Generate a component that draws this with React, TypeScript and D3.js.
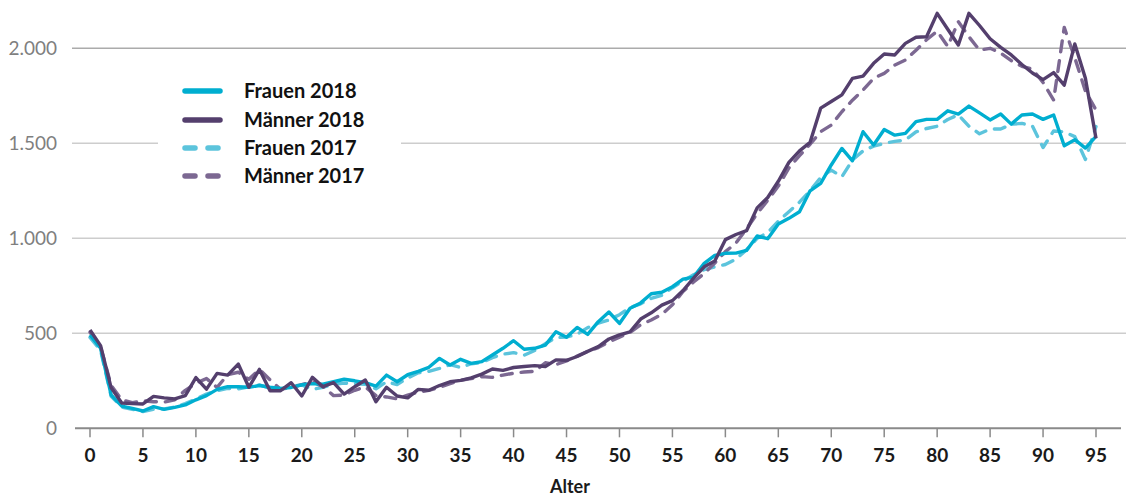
import React from "react";
import * as d3 from "d3";

const ages: number[] = d3.range(0, 96);
const xTicks: number[] = d3.range(0, 96, 5);
const yTicks: number[] = [0, 500, 1000, 1500, 2000];

const maenner2018: number[] = [
  517, 435, 213, 133, 130, 128, 168, 160, 155, 172,
  267, 206, 289, 280, 338, 216, 310, 198, 198, 240,
  170, 268, 219, 240, 180, 219, 254, 140, 216, 170,
  160, 205, 200, 225, 245, 252, 265, 285, 312, 305,
  320, 325, 330, 325, 360, 358, 378, 405, 430, 470,
  492, 508, 575, 608, 648, 672, 725, 790, 850, 880,
  993, 1020, 1040, 1160, 1215, 1300, 1400, 1460, 1505, 1685,
  1720, 1755, 1842, 1854, 1921, 1970, 1965, 2026, 2058, 2061,
  2184, 2100, 2017, 2184, 2120, 2050, 2005, 1965, 1915, 1870,
  1835, 1872, 1806, 2023, 1842, 1526,
];

const frauen2018: number[] = [
  491, 421, 175, 117, 105, 91, 114, 100, 110, 123,
  150, 172, 205, 219, 219, 216, 225, 216, 210, 215,
  229, 235, 232, 245, 258, 250, 240, 222, 280, 245,
  282, 300, 321, 368, 333, 363, 342, 351, 386, 421,
  461, 416, 421, 438, 508, 479, 531, 494, 561, 612,
  552, 632, 660, 708, 716, 745, 785, 796, 868, 910,
  921, 922, 936, 1012, 998, 1075, 1105, 1140, 1250, 1289,
  1386, 1473, 1408, 1561, 1491, 1573, 1543, 1552, 1614, 1626,
  1626, 1671, 1654, 1696, 1660, 1623, 1654, 1601, 1649, 1654,
  1626, 1649, 1487, 1519, 1475, 1536,
];

const frauen2017: number[] = [
  478, 410, 168, 112, 100, 88, 100, 102, 112, 130,
  155, 180, 198, 210, 208, 218, 228, 210, 205, 222,
  228, 205, 215, 232, 238, 235, 232, 208, 245, 230,
  265, 292, 300, 315, 335, 320, 340, 345, 372, 390,
  398, 385, 410, 445, 478, 480, 495, 530, 553, 570,
  598, 635, 655, 684, 700, 740, 775, 808, 835, 850,
  862, 890, 940, 1000, 1030, 1090, 1140, 1190, 1250, 1320,
  1359, 1324, 1412, 1460, 1485, 1500, 1510, 1517, 1560, 1578,
  1590, 1625, 1650, 1590, 1550, 1575, 1575, 1600, 1605, 1590,
  1478, 1565, 1560, 1535, 1415, 1588,
];

const maenner2017: number[] = [
  505, 428, 225, 150, 135, 145, 140, 138, 150, 200,
  237, 262, 215, 282, 295, 258, 310, 255, 205, 215,
  230, 245, 219, 172, 175, 200, 218, 172, 165, 155,
  175, 190, 200, 215, 235, 252, 262, 272, 268, 280,
  290, 296, 300, 345, 335, 355, 380, 405, 425, 455,
  480, 505, 545, 570, 600, 650, 720, 770, 815, 870,
  930, 975, 1050, 1130, 1200, 1275, 1370, 1435, 1495, 1561,
  1596, 1666, 1727, 1780, 1842, 1868, 1912, 1938, 1990, 2045,
  2090, 2010, 2140, 2061, 1990, 2000, 1975, 1935, 1905, 1890,
  1820, 1728, 2110, 1950, 1775, 1675,
];

const seriesNames: string[] = ["Frauen 2018", "Männer 2018", "Frauen 2017", "Männer 2017"];
const seriesColors: string[] = ["#00aed0", "#543f6d", "#5cc4dc", "#7c6892"];
const seriesDashed: boolean[] = [false, false, true, true];
const seriesValues: number[][] = [frauen2018, maenner2018, frauen2017, maenner2017];
const drawOrder: number[] = [2, 3, 0, 1];

const W = 1129;
const H = 496;

const de = d3.formatLocale({ decimal: ",", thousands: ".", grouping: [3], currency: ["", " €"] });
const fmt = de.format(",d");

export default function App() {
  const x = d3.scaleLinear().domain([0, 95]).range([90, 1096]);
  const y = d3.scaleLinear().domain([0, 2000]).range([428.3, 48.3]);
  const line = d3
    .line<number>()
    .x((_, i) => x(ages[i]))
    .y((d) => y(d));

  const font = "Lato, 'Open Sans', 'DejaVu Sans', sans-serif";
  const legendY = [91, 120, 148, 176];

  return (
    <svg
      width={W}
      height={H}
      viewBox={`0 0 ${W} ${H}`}
      style={{ position: "absolute", left: 0, top: 0, background: "#fff" }}
      fontFamily={font}
    >
      {yTicks
        .filter((t) => t > 0)
        .map((t) => (
          <line
            key={"g" + t}
            x1={72}
            x2={1126}
            y1={y(t)}
            y2={y(t)}
            stroke={t === 2000 ? "#ababab" : "#cdcdcd"}
            strokeWidth={1.5}
          />
        ))}
      {yTicks.map((t) => (
        <text key={"yl" + t} x={57} y={y(t) + 6.5} textAnchor="end" fontSize={19} fill="#7f7f7f">
          {fmt(t)}
        </text>
      ))}
      <line x1={75} x2={1121} y1={y(0)} y2={y(0)} stroke="#8a8a8a" strokeWidth={2} />
      {xTicks.map((t) => (
        <g key={"xt" + t}>
          <line x1={x(t)} x2={x(t)} y1={y(0)} y2={y(0) + 9} stroke="#8a8a8a" strokeWidth={1.5} />
          <text x={x(t)} y={462} textAnchor="middle" fontSize={19} fontWeight="bold" fill="#1a1a1a">
            {t}
          </text>
        </g>
      ))}
      <text x={570} y={493} textAnchor="middle" fontSize={18} fontWeight="bold" fill="#1a1a1a">
        Alter
      </text>

      {drawOrder.map((si) => (
        <path
          key={"s" + si}
          d={line(seriesValues[si]) || ""}
          fill="none"
          stroke={seriesColors[si]}
          strokeWidth={3.4}
          strokeLinejoin="round"
          strokeLinecap={seriesDashed[si] ? "round" : "butt"}
          strokeDasharray={seriesDashed[si] ? "11 9" : undefined}
        />
      ))}

      <rect x={158} y={74} width={243} height={117} fill="#fff" />
      {seriesNames.map((name, i) => (
        <g key={"lg" + i}>
          <line
            x1={185}
            x2={220}
            y1={legendY[i]}
            y2={legendY[i]}
            stroke={seriesColors[i]}
            strokeWidth={5.5}
            strokeLinecap="round"
            strokeDasharray={seriesDashed[i] ? "10 13" : undefined}
          />
          <text x={244} y={legendY[i] + 7} fontSize={20} fontWeight="bold" fill="#111">
            {name}
          </text>
        </g>
      ))}
    </svg>
  );
}
